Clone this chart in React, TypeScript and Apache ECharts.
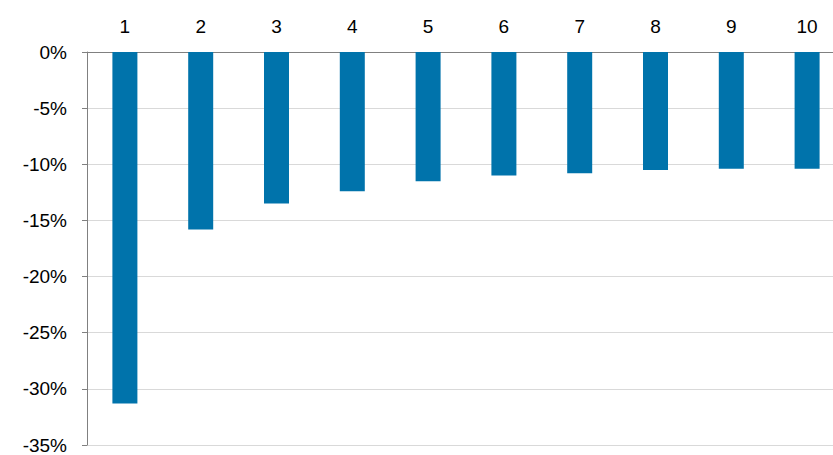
import React, { useEffect, useRef } from "react";
import * as echarts from "echarts";

const categories = ["1", "2", "3", "4", "5", "6", "7", "8", "9", "10"];
const values = [-31.3, -15.8, -13.5, -12.4, -11.5, -11.0, -10.8, -10.5, -10.4, -10.4];

export default function App() {
  const ref = useRef<HTMLDivElement>(null);
  useEffect(() => {
    document.body.style.overflow = "hidden";
    const chart = echarts.init(ref.current!, null, { renderer: "svg" });
    chart.setOption({
      animation: false,
      grid: { left: 87, width: 758, top: 52, bottom: 10 },
      xAxis: {
        type: "category",
        position: "top",
        data: categories,
        axisLine: { lineStyle: { color: "#808080", width: 1 } },
        axisTick: { inside: true, length: 6, lineStyle: { color: "#808080" } },
        axisLabel: { color: "#000", fontSize: 19, fontFamily: "Liberation Sans", margin: 16 },
      },
      yAxis: {
        type: "value",
        min: -35,
        max: 0,
        interval: 5,
        axisLine: { show: true, lineStyle: { color: "#808080" } },
        axisTick: { show: true, length: 5, lineStyle: { color: "#808080" } },
        splitLine: { lineStyle: { color: "#d9d9d9" } },
        axisLabel: { color: "#000", fontSize: 19, fontFamily: "Liberation Sans", formatter: "{value}%", margin: 20 },
      },
      series: [{ type: "bar", data: values, barWidth: 25, itemStyle: { color: "#0073AB" } }],
    });
    return () => chart.dispose();
  }, []);
  return <div ref={ref} style={{ width: 860, height: 455, position: "absolute", left: 0, top: 0 }} />;
}
